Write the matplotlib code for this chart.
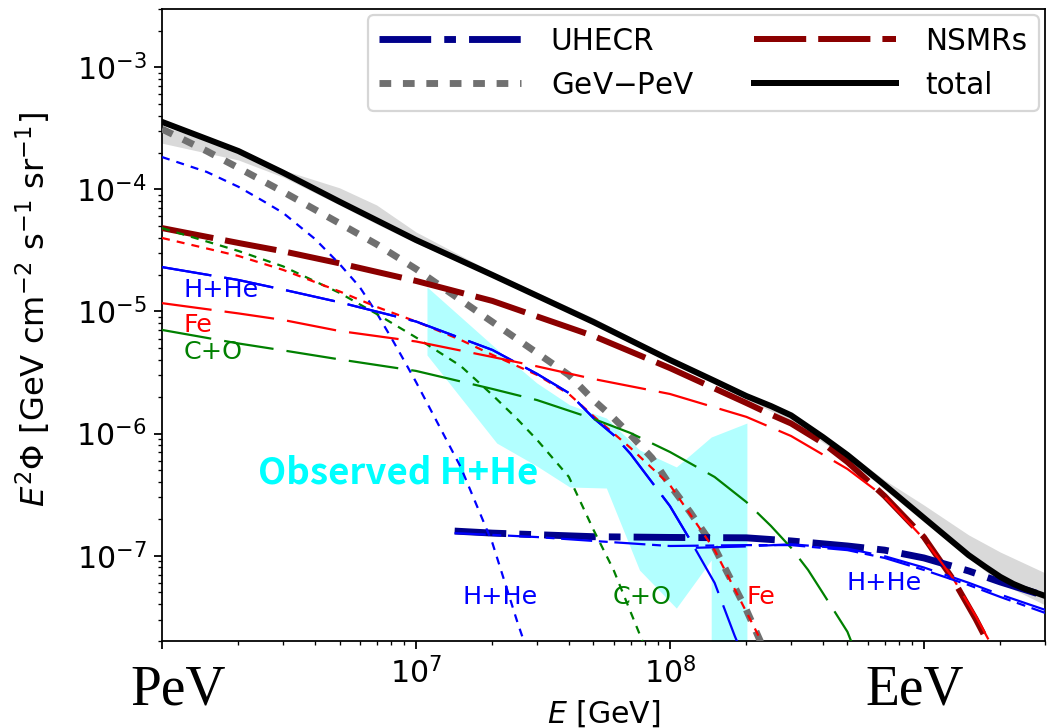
import matplotlib
matplotlib.use('Agg')
import matplotlib.pyplot as plt

plt.rcParams['font.family'] = ['DejaVu Sans']
plt.rcParams['mathtext.fontset'] = 'dejavusans'

# energies [GeV] and E^2*Phi [GeV cm^-2 s^-1 sr^-1]
E_total = [1e6, 1.5e6, 2e6, 3e6, 5e6, 1e7, 2e7, 5e7, 1e8, 1.5e8, 2e8, 2.5e8, 3e8, 4e8, 5e8, 7e8, 1e9,
           1.5e9, 1.75e9, 2e9, 2.25e9, 2.5e9, 3e9]
F_total = [3.57e-4, 2.59e-4, 2.06e-4, 1.37e-4, 7.93e-5, 3.85e-5, 1.99e-5, 8.2e-6, 4.01e-6, 2.70e-6,
           2.03e-6, 1.68e-6, 1.41e-6, 9.37e-7, 6.68e-7, 3.79e-7, 2.04e-7, 1.01e-7, 8.07e-8, 6.70e-8,
           5.87e-8, 5.35e-8, 4.68e-8]

E_band = [1e6, 2e6, 3e6, 5e6, 7e6, 1e7, 2e7, 5e7, 1e8, 2e8, 3e8, 5e8, 7e8, 1e9, 1.5e9, 2e9, 3e9]
band_lo = [2.39e-4, 1.74e-4, 1.26e-4, 7.45e-5, 5.21e-5, 3.64e-5, 1.92e-5, 7.9e-6, 3.8e-6, 1.92e-6,
           1.27e-6, 6.2e-7, 3.5e-7, 1.89e-7, 9.6e-8, 5.98e-8, 3.95e-8]
band_hi = [3.3e-4, 2.10e-4, 1.44e-4, 1.03e-4, 7.45e-5, 4.48e-5, 2.10e-5, 8.85e-6, 4.2e-6, 2.15e-6,
           1.45e-6, 7.07e-7, 4.17e-7, 2.6e-7, 1.48e-7, 1.07e-7, 7.23e-8]

# GeV-PeV population
E_gp = [1e6, 1.5e6, 2e6, 3e6, 5e6, 7e6, 1e7, 1.5e7, 2e7, 3e7, 4e7, 5e7, 6e7, 7e7, 8.5e7, 1e8, 1.2e8,
        1.5e8, 2e8, 2.5e8]
F_gp = [3.12e-4, 2.06e-4, 1.50e-4, 9.55e-5, 5.27e-5, 3.55e-5, 2.23e-5, 1.24e-5, 8.2e-6, 4.57e-6,
        3.02e-6, 1.88e-6, 1.34e-6, 9.74e-7, 6.31e-7, 3.79e-7, 2.28e-7, 1.16e-7, 3.6e-8, 1.27e-8]
E_gp_hhe = [1e6, 1.5e6, 2e6, 2.5e6, 3e6, 4e6, 5e6, 6e6, 7e6, 8e6, 9e6, 1e7, 1.2e7, 1.5e7, 2e7, 2.5e7,
            2.7e7]
F_gp_hhe = [1.84e-4, 1.39e-4, 1.05e-4, 8.04e-5, 6.41e-5, 3.93e-5, 2.45e-5, 1.59e-5, 9.73e-6, 6.07e-6,
            3.93e-6, 2.65e-6, 1.29e-6, 5.32e-7, 1.27e-7, 2.92e-8, 1.82e-8]
E_gp_co = [1e6, 2e6, 3e6, 5e6, 7e6, 1e7, 1.5e7, 2e7, 2.5e7, 3e7, 4e7, 5e7, 6e7, 7e7, 8e7]
F_gp_co = [4.82e-5, 3.13e-5, 2.34e-5, 1.42e-5, 9.55e-6, 6.13e-6, 3.58e-6, 2.07e-6, 1.32e-6, 8.87e-7,
           4.42e-7, 1.63e-7, 7.64e-8, 3.46e-8, 1.75e-8]
E_gp_fe = [1e6, 2e6, 3e6, 5e6, 7e6, 1e7, 1.5e7, 2e7, 3e7, 4e7, 5e7, 7e7, 1e8, 1.2e8, 1.5e8, 2e8, 2.3e8]
F_gp_fe = [4.0e-5, 2.85e-5, 2.19e-5, 1.46e-5, 1.09e-5, 8.28e-6, 5.85e-6, 4.41e-6, 3.02e-6, 2.11e-6,
           1.39e-6, 7.62e-7, 3.79e-7, 2.19e-7, 1.11e-7, 3.46e-8, 1.96e-8]

# NSMRs population
E_ns = [1e6, 2e6, 3e6, 5e6, 1e7, 2e7, 3e7, 5e7, 1e8, 2e8, 2.5e8, 3e8, 4e8, 5e8, 7e8, 1e9, 1.3e9,
        1.6e9, 1.8e9]
F_ns = [4.82e-5, 3.64e-5, 3.11e-5, 2.48e-5, 1.78e-5, 1.22e-5, 9.1e-6, 6.3e-6, 3.44e-6, 1.78e-6,
        1.43e-6, 1.21e-6, 8.38e-7, 5.85e-7, 3.08e-7, 1.42e-7, 6.44e-8, 3.03e-8, 1.89e-8]
E_ns_hhe = [1e6, 2e6, 3e6, 5e6, 1e7, 2e7, 3e7, 4e7, 5e7, 6e7, 7e7, 1e8, 1.2e8, 1.5e8, 1.8e8, 1.9e8]
F_ns_hhe = [2.31e-5, 1.81e-5, 1.51e-5, 1.19e-5, 8.28e-6, 4.84e-6, 3.08e-6, 2.15e-6, 1.34e-6, 9.74e-7,
            6.81e-7, 2.55e-7, 1.35e-7, 5.98e-8, 2.20e-8, 1.69e-8]
E_ns_co = [1e6, 2e6, 3e6, 5e6, 1e7, 2e7, 3e7, 5e7, 7e7, 1e8, 1.5e8, 2e8, 2.5e8, 3e8, 3.5e8, 4e8,
           5e8, 5.3e8]
F_ns_co = [7.06e-6, 5.47e-6, 4.80e-6, 4.05e-6, 3.26e-6, 2.32e-6, 1.88e-6, 1.32e-6, 1.01e-6, 7.07e-7,
           4.41e-7, 2.75e-7, 1.75e-7, 1.16e-7, 7.64e-8, 4.95e-8, 2.38e-8, 1.75e-8]
E_ns_fe = [1e6, 2e6, 3e6, 5e6, 1e7, 2e7, 3e7, 5e7, 1e8, 2e8, 3e8, 5e8, 7e8, 1e9, 1.3e9, 1.6e9, 1.8e9]
F_ns_fe = [1.17e-5, 9.64e-6, 8.52e-6, 6.92e-6, 5.68e-6, 4.24e-6, 3.55e-6, 2.80e-6, 2.11e-6, 1.37e-6,
           9.55e-7, 5.13e-7, 3.03e-7, 1.37e-7, 6.57e-8, 3.21e-8, 2.04e-8]

# UHECR population
E_uh = [1.42e7, 2e7, 5e7, 1e8, 2e8, 3e8, 5e8, 7e8, 1e9, 1.5e9, 2e9, 3e9]
F_uh = [1.59e-7, 1.53e-7, 1.43e-7, 1.41e-7, 1.40e-7, 1.32e-7, 1.20e-7, 1.11e-7, 9.58e-8, 7.50e-8,
        6.09e-8, 4.68e-8]
E_uh_hhe = [1.42e7, 2e7, 3e7, 5e7, 1e8, 2e8, 3e8, 5e8, 7e8, 1e9, 1.5e9, 2e9, 3e9]
F_uh_hhe = [1.53e-7, 1.48e-7, 1.42e-7, 1.32e-7, 1.20e-7, 1.22e-7, 1.22e-7, 1.11e-7, 9.58e-8, 7.64e-8,
            5.75e-8, 4.59e-8, 3.40e-8]

# H+He, NSMRs + UHECR
E_hhe_sum = [1e6, 2e6, 3e6, 5e6, 1e7, 2e7, 3e7, 4e7, 5e7, 6e7, 7e7, 1e8, 1.2e8, 1.25e8, 2e8, 3e8,
             5e8, 7e8, 1e9, 1.5e9, 2e9, 3e9]
F_hhe_sum = [2.31e-5, 1.81e-5, 1.51e-5, 1.19e-5, 8.28e-6, 4.84e-6, 3.08e-6, 2.15e-6, 1.34e-6, 9.74e-7,
             6.81e-7, 2.55e-7, 1.35e-7, 1.16e-7, 1.19e-7, 1.24e-7, 1.14e-7, 9.9e-8, 8.0e-8, 6.0e-8,
             4.8e-8, 3.6e-8]

# observed H+He band
E_obs = [1.105e7, 2.08e7, 2.99e7, 4.03e7, 5.62e7, 7.59e7, 1.06e8, 1.454e8, 1.454e8, 2.01e8]
obs_hi = [1.59e-5, 4.93e-6, 2.60e-6, 1.72e-6, 1.34e-6, 7.35e-7, 5.33e-7, 9.37e-7, 9.37e-7, 1.22e-6]
obs_lo = [4.40e-6, 8.36e-7, 5.43e-7, 3.65e-7, 3.58e-7, 7.62e-8, 3.72e-8, 9.2e-8, 1e-9, 1e-9]

short = (0, (3.6, 3.2))
long_ = (0, (22.5, 5.9))
dashdot = (0, (14, 3, 4, 3))

fig = plt.figure(figsize=(1054 / 160, 728 / 160), dpi=160)
ax = fig.add_axes([0.1537, 0.1195, 0.8378, 0.8681])

ax.fill_between(E_band, band_lo, band_hi, color='#d9d9d9', lw=0, zorder=1)
ax.fill_between(E_obs, obs_lo, obs_hi, color='cyan', alpha=0.3, lw=0, zorder=1)

l_gp, = ax.plot(E_gp, F_gp, color='#707070', lw=3.1, ls=(0, (1.7, 1.7)), zorder=3, label='GeV$-$PeV')
l_ns, = ax.plot(E_ns, F_ns, color='#8b0000', lw=2.7, ls=(0, (8.7, 2.0)), zorder=3, label='NSMRs')
l_uh, = ax.plot(E_uh, F_uh, color='#00008b', lw=3.1, ls=(0, (7.5, 1.9, 1.7, 1.9)), zorder=3,
                label='UHECR')
l_tot, = ax.plot(E_total, F_total, color='black', lw=2.7, zorder=4, label='total')

ax.plot(E_gp_hhe, F_gp_hhe, color='blue', lw=1, ls=short, zorder=5)
ax.plot(E_gp_co, F_gp_co, color='green', lw=1, ls=short, zorder=5)
ax.plot(E_gp_fe, F_gp_fe, color='red', lw=1, ls=short, zorder=5)
ax.plot(E_ns_hhe, F_ns_hhe, color='blue', lw=1, ls=long_, zorder=5)
ax.plot(E_hhe_sum, F_hhe_sum, color='blue', lw=1, ls=long_, zorder=5)
ax.plot(E_ns_co, F_ns_co, color='green', lw=1, ls=long_, zorder=5)
ax.plot(E_ns_fe, F_ns_fe, color='red', lw=1, ls=long_, zorder=5)
ax.plot(E_uh_hhe, F_uh_hhe, color='blue', lw=1, ls=dashdot, zorder=5)

ax.set_xscale('log')
ax.set_yscale('log')
ax.set_xlim(1e6, 3e9)
ax.set_ylim(2e-8, 3e-3)
ax.set_xticks([1e6, 1e7, 1e8, 1e9])
ax.set_xticklabels(['', '$10^{7}$', '$10^{8}$', ''])
ax.tick_params(labelsize=13.5)

ax.set_ylabel(r'$E^2\Phi$ [GeV cm$^{-2}$ s$^{-1}$ sr$^{-1}$]', fontsize=14.5)
ax.yaxis.set_label_coords(-0.1234, 0.524)
ax.set_xlabel(r'$E$ [GeV]', fontsize=13.5)
ax.xaxis.set_label_coords(0.5, -0.09)

tr = ax.get_xaxis_transform()
ax.text(1.16e6, -0.1, 'PeV', transform=tr, ha='center', va='baseline',
        family='Liberation Serif', fontsize=25)
ax.text(9.2e8, -0.1, 'EeV', transform=tr, ha='center', va='baseline',
        family='Liberation Serif', fontsize=25)

fs = 11.4
ax.text(1.22e6, 1.5e-5, 'H+He', color='blue', fontsize=fs, va='center')
ax.text(1.22e6, 7.74e-6, 'Fe', color='red', fontsize=fs, va='center')
ax.text(1.22e6, 4.66e-6, 'C+O', color='green', fontsize=fs, va='center')
ax.text(1.52e7, 4.59e-8, 'H+He', color='blue', fontsize=fs, va='center')
ax.text(5.94e7, 4.59e-8, 'C+O', color='green', fontsize=fs, va='center')
ax.text(2.01e8, 4.59e-8, 'Fe', color='red', fontsize=fs, va='center')
ax.text(4.98e8, 5.97e-8, 'H+He', color='blue', fontsize=fs, va='center')
ax.text(2.39e6, 4.75e-7, 'Observed H+He', color='cyan', fontsize=16.5, fontweight='bold',
        family=['Noto Sans CJK JP', 'DejaVu Sans'], va='center')

ax.legend(handles=[l_uh, l_gp, l_ns, l_tot], ncol=2, loc='upper right', fontsize=13.3,
          handlelength=4.8, handletextpad=1.0, columnspacing=2.0, borderaxespad=0.2)

fig.savefig('out.png', dpi=160)
